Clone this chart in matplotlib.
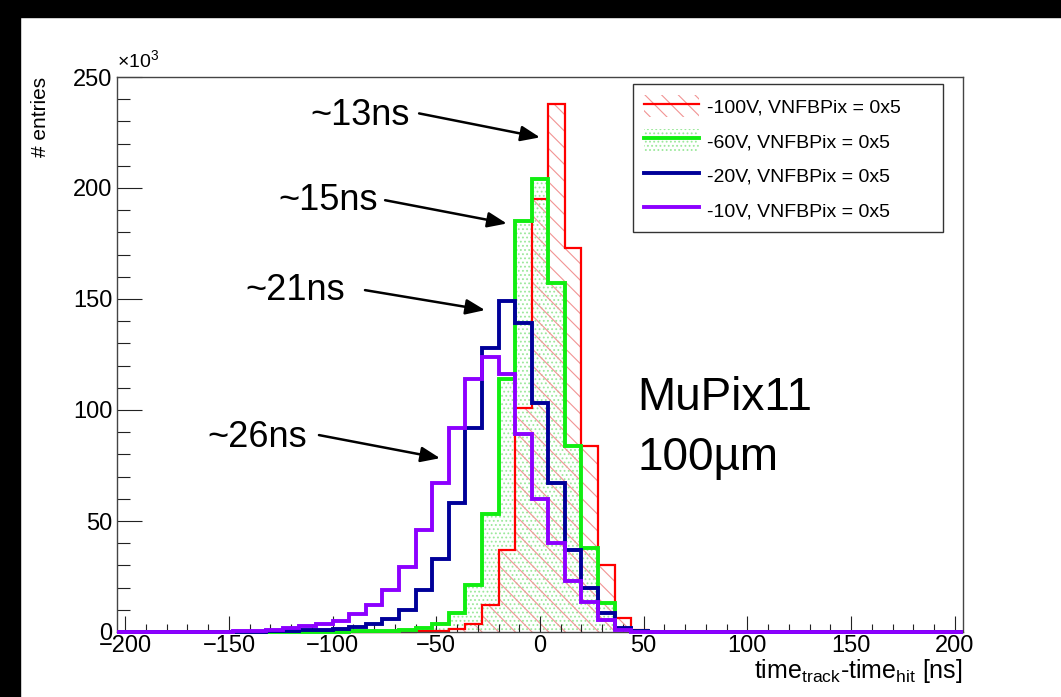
import numpy as np
import matplotlib
matplotlib.use("Agg")
import matplotlib.pyplot as plt
from matplotlib.patches import Patch, Rectangle
from matplotlib.lines import Line2D
from matplotlib.ticker import MultipleLocator

plt.rcParams['font.family'] = ['Liberation Sans', 'DejaVu Sans']
plt.rcParams['hatch.linewidth'] = 0.8

# 8 ns bins, edges -204 ... 204 (centres -200 ... 200)
edges = np.arange(-204, 205, 8)

# entries per bin, in units of 10^3
hv100 = [0, 0, 0, 0, 0, 0, 0, 0, 0, 0, 0, 0, 0, 0, 0, 0,
         0.1, 0.15, 0.3, 0.6, 1.5, 3.8, 12, 37, 101, 195, 238, 173, 84, 30, 6.5, 0.8, 0.2,
         0, 0, 0, 0, 0, 0, 0, 0, 0, 0, 0, 0, 0, 0, 0, 0, 0, 0]
hv60 = [0, 0, 0, 0, 0, 0, 0, 0, 0, 0, 0, 0,
        0.1, 0.2, 0.3, 0.4, 0.6, 1.0, 1.6, 3.8, 8.5, 21, 53, 114, 185, 204, 157, 84, 38, 13, 1.5, 0.3,
        0, 0, 0, 0, 0, 0, 0, 0, 0, 0, 0, 0, 0, 0, 0, 0, 0, 0, 0]
hv20 = [0, 0, 0, 0, 0, 0,
        0.1, 0.15, 0.2, 0.3, 0.5, 0.7, 1.0, 1.5, 2.2, 3.5, 6, 10, 19, 33, 58, 92, 128, 149, 139,
        103, 67, 37, 20, 8.5, 2, 0.4,
        0, 0, 0, 0, 0, 0, 0, 0, 0, 0, 0, 0, 0, 0, 0, 0, 0, 0, 0]
hv10 = [0.05, 0.05, 0.05, 0.05, 0.05, 0.1,
        0.2, 0.3, 0.5, 1.0, 1.6, 2.5, 3.5, 5, 8, 12, 18.7, 29.5, 46, 67, 92, 114, 124, 116, 89,
        60, 40, 23, 13.5, 5.5, 0.8, 0.2,
        0, 0, 0, 0, 0, 0, 0, 0, 0, 0, 0, 0, 0, 0, 0, 0, 0, 0, 0]

labels = ["-100V, VNFBPix = 0x5", "-60V, VNFBPix = 0x5",
          "-20V, VNFBPix = 0x5", "-10V, VNFBPix = 0x5"]
colors = ["#ff0000", "#11ee11", "#000099", "#8c00ff"]

fig = plt.figure(figsize=(10.61, 6.97), dpi=100)
ax = fig.add_axes([117/1061, 65/697, 846/1061, 555/697])

# black strips of the screenshot
fig.patches.append(Rectangle((0, 1 - 17/697), 1, 17/697, transform=fig.transFigure,
                             color="black", zorder=0))
fig.patches.append(Rectangle((0, 0), 20/1061, 1, transform=fig.transFigure,
                             color="black", zorder=0))

# fills
ax.stairs(hv60, edges, fill=True, facecolor="none", edgecolor="#9be89b",
          hatch="....", linewidth=0, zorder=1)
ax.stairs(hv100, edges, fill=True, facecolor="none", edgecolor="#f29494",
          hatch="\\\\", linewidth=0, zorder=1.5)

# outlines (not clipped, so the zero line keeps its full width on the axis)
widths = [1.6, 2.8, 2.8, 2.8]
for i, h in enumerate([hv100, hv60, hv20, hv10]):
    ax.stairs(h, edges, color=colors[i], linewidth=widths[i], zorder=2 + i,
              clip_on=False)

ax.set_xlim(-204, 204)
ax.set_ylim(0, 250)
ax.xaxis.set_major_locator(MultipleLocator(50))
ax.xaxis.set_minor_locator(MultipleLocator(10))
ax.yaxis.set_major_locator(MultipleLocator(50))
ax.yaxis.set_minor_locator(MultipleLocator(10))
ax.tick_params(which="both", direction="in", top=False, right=False, width=0.8,
               labelsize=17, color="#222222")
ax.tick_params(axis="x", which="major", length=11.5, pad=2.5)
ax.tick_params(axis="x", which="minor", length=5.8)
ax.tick_params(axis="y", which="major", length=18, pad=3.5)
ax.tick_params(axis="y", which="minor", length=9)
for sp in ax.spines.values():
    sp.set_linewidth(1.0)
    sp.set_color("#444444")

ax.text(0, 1.008, "×10$^{\\mathregular{3}}$", transform=ax.transAxes,
        ha="left", va="bottom", fontsize=14)
fig.text(40/1061, 1 - 77/697, "# entries", rotation=90, ha="center", va="top",
         fontsize=15)
fig.text(962/1061, 19/697,
         "time$_{\\mathregular{track}}$-time$_{\\mathregular{hit}}$ [ns]",
         ha="right", va="baseline", fontsize=18)

# timing annotations: text end, arrow start, arrow tip
notes = [("~13ns", (-63, 228.6), (-58.3, 233.6), (0, 222.8)),
         ("~15ns", (-78, 190), (-74.7, 194.5), (-16, 184)),
         ("~21ns", (-94, 149.4), (-84.4, 154), (-26.5, 145)),
         ("~26ns", (-112.3, 83.3), (-106.6, 88.7), (-48.2, 78.3))]
for txt, tpos, start, tip in notes:
    ax.text(tpos[0], tpos[1], txt, ha="right", va="baseline", fontsize=26, zorder=10)
    ax.annotate("", xy=tip, xytext=start,
                arrowprops=dict(arrowstyle="-|>,head_length=0.45,head_width=0.18",
                                lw=1.8, color="black", shrinkA=0, shrinkB=0,
                                mutation_scale=26), zorder=10)

ax.text(46.8, 100, "MuPix11", ha="left", va="baseline", fontsize=33)
ax.text(46.8, 73, "100µm", ha="left", va="baseline", fontsize=33)

handles = [
    (Patch(facecolor="none", edgecolor="#f29494", hatch="\\\\", linewidth=0),
     Line2D([], [], color=colors[0], lw=1.6)),
    (Patch(facecolor="none", edgecolor="#9be89b", hatch="....", linewidth=0),
     Line2D([], [], color=colors[1], lw=2.8)),
    Line2D([], [], color=colors[2], lw=2.8),
    Line2D([], [], color=colors[3], lw=2.8),
]
leg = ax.legend(handles, labels, loc="upper left", mode="expand",
                bbox_to_anchor=(516/846, 0.5, 310/846, 0.487),
                borderaxespad=0, fontsize=14, frameon=True, fancybox=False,
                edgecolor="#333333", framealpha=1, handlelength=2.85,
                handleheight=1.4, handletextpad=0.4, labelspacing=0.62,
                borderpad=0.55)
leg.get_frame().set_linewidth(1.0)
leg.set_zorder(20)

fig.savefig("out.png", dpi=100)
